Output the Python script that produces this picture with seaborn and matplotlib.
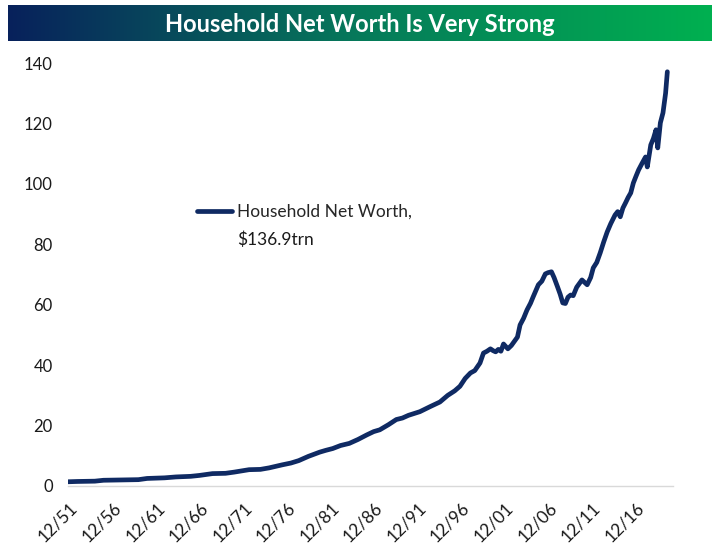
import numpy as np
import pandas as pd
import matplotlib.pyplot as plt
import matplotlib.transforms as mtransforms
import seaborn as sns
from matplotlib.colors import LinearSegmentedColormap

# decimal year of each reading, household net worth in $trn
years = [1951.92, 1953.0, 1955.0, 1956.0, 1958.0, 1960.0, 1961.0, 1963.0, 1964.3, 1966.0,
         1967.0, 1968.5, 1970.0, 1971.0, 1972.7, 1974.0, 1975.0, 1976.5, 1977.5, 1978.4,
         1979.5, 1980.8, 1981.5, 1982.3, 1983.2, 1984.2, 1985.2, 1986.2, 1987.0, 1987.7,
         1988.7, 1989.6, 1990.3, 1991.0, 1992.3, 1993.5, 1994.6, 1995.5, 1996.3, 1996.9,
         1997.5, 1998.1, 1998.6, 1999.2, 1999.6, 2000.0, 2000.4, 2000.7, 2001.0, 2001.3,
         2001.6, 2001.9, 2002.4, 2002.8, 2003.5, 2003.8, 2004.2, 2004.6, 2005.0, 2005.3,
         2005.9, 2006.3, 2006.7, 2007.0, 2007.4, 2007.7, 2008.1, 2008.4, 2008.7, 2009.0,
         2009.3, 2009.6, 2009.9, 2010.3, 2010.9, 2011.5, 2011.9, 2012.2, 2012.6, 2013.0,
         2013.4, 2013.8, 2014.2, 2014.7, 2015.0, 2015.3, 2015.6, 2015.9, 2016.2, 2016.5,
         2016.8, 2017.1, 2017.4, 2017.8, 2018.2, 2018.4, 2018.8, 2019.1, 2019.4, 2019.6,
         2019.9, 2020.2, 2020.5, 2020.7]
net_worth = [1.4, 1.5, 1.6, 1.9, 2.0, 2.1, 2.5, 2.7, 3.0, 3.2,
             3.5, 4.1, 4.2, 4.6, 5.4, 5.5, 6.0, 7.0, 7.6, 8.4,
             9.8, 11.2, 11.8, 12.4, 13.4, 14.1, 15.4, 16.9, 18.0, 18.6,
             20.3, 22.0, 22.5, 23.4, 24.6, 26.3, 27.8, 30.0, 31.5, 33.0,
             35.6, 37.4, 38.2, 40.7, 44.0, 44.6, 45.4, 44.8, 44.4, 45.2,
             44.6, 47.0, 45.4, 46.5, 49.3, 53.3, 55.5, 58.3, 60.5, 62.6,
             66.6, 67.8, 70.2, 70.6, 70.9, 69.0, 65.9, 63.5, 60.6, 60.4,
             62.5, 63.2, 63.0, 65.8, 68.2, 66.6, 69.0, 72.2, 74.0, 77.2,
             80.8, 84.1, 86.8, 89.7, 90.8, 89.1, 92.0, 93.7, 95.5, 97.0,
             100.3, 102.5, 104.6, 106.8, 108.9, 105.6, 112.9, 115.0, 117.9, 111.9,
             120.2, 123.5, 130.0, 137.1]

tick_years = [1951.92 + 5 * i for i in range(14)]
tick_labels = ["12/51", "12/56", "12/61", "12/66", "12/71", "12/76", "12/81",
               "12/86", "12/91", "12/96", "12/01", "12/06", "12/11", "12/16"]

sns.set_style("white")
plt.rcParams["font.family"] = ["Lato", "DejaVu Sans"]

df = pd.DataFrame({"year": years, "value": net_worth})

fig = plt.figure(figsize=(7.2, 5.52), dpi=100)

# title banner with blue-to-green gradient
bax = fig.add_axes([8 / 720, 1 - 41 / 552, 704 / 720, 36 / 552])
cmap = LinearSegmentedColormap.from_list("banner", ["#08215c", "#067a5a", "#00b050"])
bax.imshow(np.linspace(0, 1, 256).reshape(1, -1), aspect="auto", cmap=cmap,
           extent=[0, 1, 0, 1])
bax.set_axis_off()
bax.text(0.5, 0.47, "Household Net Worth Is Very Strong", color="white",
         fontsize=17, fontweight="bold", ha="center", va="center",
         transform=bax.transAxes)

ax = fig.add_axes([68 / 720, 1 - 486 / 552, 605 / 720, 423 / 552])
sns.lineplot(data=df, x="year", y="value", ax=ax, color="#0f2a63",
             linewidth=3.4, label="Household Net Worth,")

ax.set_xlim(1951.92, 2021.35)
ax.set_ylim(0, 140)
ax.set_yticks(range(0, 141, 20))
ax.set_xticks(tick_years)
ax.set_xticklabels(tick_labels, rotation=45, ha="right", va="center",
                   rotation_mode="anchor")
ax.set_xlabel("")
ax.set_ylabel("")
for s in ["top", "right", "left"]:
    ax.spines[s].set_visible(False)
ax.spines["bottom"].set_color("#d9d9d9")
ax.spines["bottom"].set_linewidth(1)
ax.tick_params(axis="y", length=0, pad=11, labelsize=12, colors="#1a1a1a")
ax.tick_params(axis="x", length=5, width=1, color="#d9d9d9", pad=6,
               labelsize=12.5, labelcolor="#1a1a1a", direction="out")
ax.grid(False)

# nudge rotated labels so they hang right of each tick, as in Excel
shift = mtransforms.ScaledTranslation(7 / 100, -4 / 100, fig.dpi_scale_trans)
for lbl in ax.get_xticklabels():
    lbl.set_transform(lbl.get_transform() + shift)

ax.legend(loc="center left", bbox_to_anchor=(197 / 720, 1 - 212 / 552),
          bbox_transform=fig.transFigure, frameon=False, fontsize=12.5,
          handlelength=2.0, handletextpad=0.3, borderpad=0, borderaxespad=0)
fig.text(237 / 720, 1 - 240 / 552, "$136.9trn", fontsize=12.5,
         color="#1a1a1a", ha="left", va="center")

fig.savefig("out.png", dpi=100)
